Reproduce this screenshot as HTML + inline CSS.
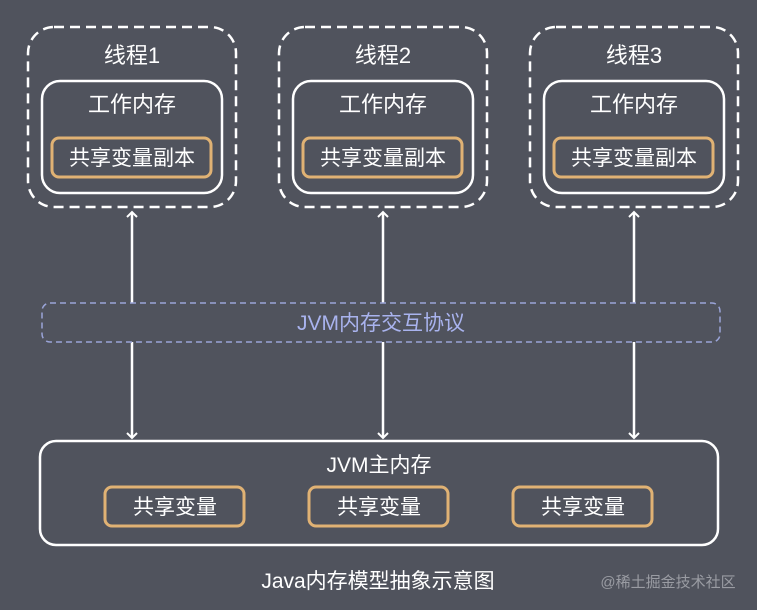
<!DOCTYPE html><html><head><style>body{margin:0;background:#50535d}svg{display:block}text{font-family:"Liberation Sans","Noto Sans CJK SC",sans-serif;fill:#fff;text-anchor:middle}</style></head><body>
<svg width="757" height="610" viewBox="0 0 757 610">
<rect width="757" height="610" fill="#50535d"/>
<defs><marker id="a" markerWidth="12" markerHeight="12" refX="6" refY="6" orient="auto-start-reverse" markerUnits="userSpaceOnUse"><path d="M1,1 L6,6 L1,11" fill="none" stroke="#fff" stroke-width="2"/></marker>
<g id="t"><rect x="28" y="27" width="208" height="180" rx="26" fill="none" stroke="#fff" stroke-width="2.5" stroke-dasharray="10 6"/>
<rect x="42" y="81" width="180" height="112" rx="18" fill="none" stroke="#fff" stroke-width="2.5"/>
<rect x="52" y="138" width="159" height="39" rx="7" fill="none" stroke="#e0b274" stroke-width="3"/>
<text x="132" y="112" font-size="22">工作内存</text>
<text x="132" y="165" font-size="21">共享变量副本</text></g></defs>
<use href="#t"/><use href="#t" x="251"/><use href="#t" x="502"/>
<text x="132" y="63" font-size="22">线程1</text><text x="383" y="63" font-size="22">线程2</text><text x="634" y="63" font-size="22">线程3</text>
<g stroke="#fff" stroke-width="2.5">
<line x1="132" y1="303" x2="132" y2="212" marker-end="url(#a)"/><line x1="383" y1="303" x2="383" y2="212" marker-end="url(#a)"/><line x1="634" y1="303" x2="634" y2="212" marker-end="url(#a)"/>
<line x1="132" y1="342" x2="132" y2="438" marker-end="url(#a)"/><line x1="383" y1="342" x2="383" y2="438" marker-end="url(#a)"/><line x1="634" y1="342" x2="634" y2="438" marker-end="url(#a)"/></g>
<rect x="42" y="303" width="678" height="39" rx="8" fill="none" stroke="#9aa4d8" stroke-width="1.5" stroke-dasharray="6 4"/>
<text x="381" y="330" font-size="21" style="fill:#a9b3ee">JVM内存交互协议</text>
<rect x="40" y="441" width="678" height="104" rx="16" fill="none" stroke="#fff" stroke-width="2.5"/>
<text x="379" y="472" font-size="21">JVM主内存</text>
<g fill="none" stroke="#e0b274" stroke-width="3"><rect x="105" y="487" width="139" height="39" rx="7"/><rect x="309" y="487" width="139" height="39" rx="7"/><rect x="513" y="487" width="139" height="39" rx="7"/></g>
<text x="175" y="514" font-size="21">共享变量</text><text x="379" y="514" font-size="21">共享变量</text><text x="583" y="514" font-size="21">共享变量</text>
<text x="378" y="588" font-size="21">Java内存模型抽象示意图</text>
<text x="668" y="587" font-size="15" style="fill:#9a9ca3">@稀土掘金技术社区</text>
</svg></body></html>
